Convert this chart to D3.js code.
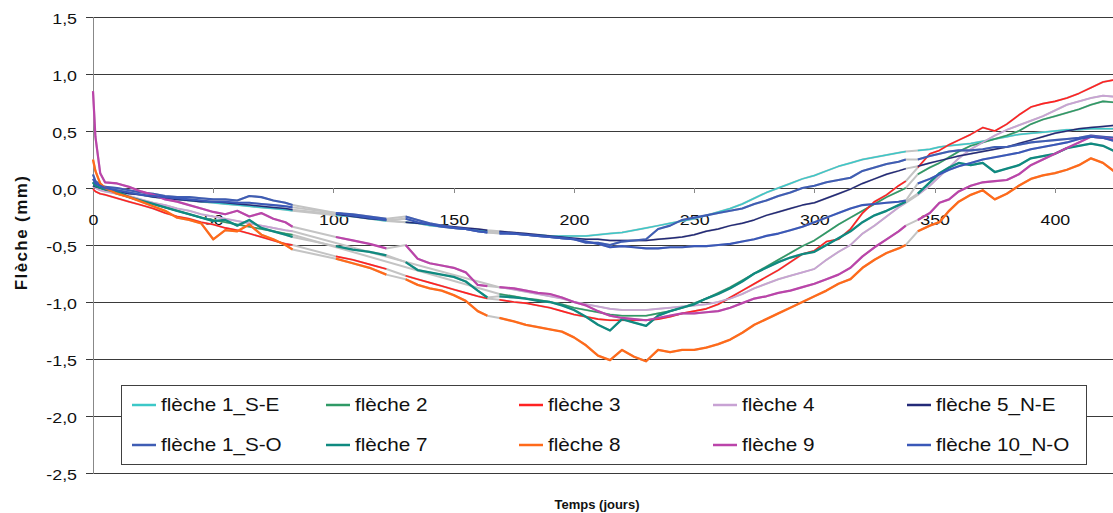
<!DOCTYPE html>
<html><head><meta charset="utf-8">
<script src="https://cdn.jsdelivr.net/npm/d3@7"></script>
<style>
html,body{margin:0;padding:0;background:#fff;}
svg{display:block;font-family:"Liberation Sans",Arial,sans-serif;}
</style></head><body>
<svg id="chart" width="1113" height="513"></svg>
<script>
// ---- DATA (days; null = missing readings, bridged in grey) ----
const days = [0,1,3,5,10,15,20,25,30,35,40,45,50,55,60,65,70,75,80,83,
  90,
  101,108,115,122,
  126,
  130,135,140,145,150,155,160,164,
  166,
  169,175,180,185,190,195,200,205,210,215,220,225,230,235,240,245,250,255,260,265,270,275,280,285,290,295,300,305,310,315,320,325,330,335,338,
  341,
  343,348,352,356,360,365,370,375,380,385,390,395,400,405,410,415,420,425];

const f1SE = [0.05,0.03,0.01,0.00,-0.02,-0.04,-0.06,-0.08,-0.09,-0.10,-0.11,-0.12,-0.13,-0.14,-0.15,-0.16,-0.17,-0.18,-0.19,-0.20,
  null, -0.24,-0.25,-0.27,-0.29, null, -0.30,-0.31,-0.33,-0.34,-0.35,-0.36,-0.37,-0.38, null,
  -0.39,-0.40,-0.41,-0.41,-0.42,-0.42,-0.42,-0.42,-0.41,-0.40,-0.39,-0.37,-0.35,-0.33,-0.31,-0.29,-0.27,-0.24,-0.21,-0.18,-0.14,-0.09,-0.04,0.00,0.04,0.08,0.11,0.15,0.19,0.22,0.25,0.27,0.29,0.31,0.32,
  null, 0.33,0.34,0.36,0.37,0.38,0.39,0.41,0.43,0.45,0.47,0.48,0.49,0.50,0.51,0.51,0.52,0.52,0.52];

const f2 = [0.05,0.02,0.00,-0.02,-0.05,-0.08,-0.11,-0.14,-0.17,-0.20,-0.23,-0.26,-0.28,-0.30,-0.32,-0.34,-0.36,-0.38,-0.40,-0.41,
  null, null,null,null,null, null, null,null,null,null,null,null,null,null, null,
  -0.93,-0.95,-0.97,-0.98,-1.00,-1.02,-1.05,-1.07,-1.09,-1.11,-1.12,-1.12,-1.12,-1.10,-1.08,-1.05,-1.01,-0.97,-0.92,-0.87,-0.81,-0.75,-0.69,-0.63,-0.57,-0.51,-0.46,-0.39,-0.32,-0.26,-0.20,-0.14,-0.08,-0.03,0.00,
  null, 0.12,0.18,0.22,0.27,0.32,0.37,0.40,0.43,0.46,0.50,0.56,0.60,0.63,0.66,0.69,0.73,0.76,0.75];

const f3 = [-0.01,-0.03,-0.05,-0.06,-0.09,-0.12,-0.15,-0.18,-0.22,-0.25,-0.27,-0.30,-0.32,-0.35,-0.37,-0.40,-0.43,-0.46,-0.49,-0.50,
  null, -0.60,-0.63,-0.67,-0.71, null, -0.77,-0.80,-0.83,-0.86,-0.89,-0.92,-0.95,-0.97, null,
  -0.98,-1.00,-1.01,-1.03,-1.05,-1.08,-1.11,-1.13,-1.15,-1.16,-1.16,-1.16,-1.16,-1.15,-1.13,-1.10,-1.08,-1.06,-1.02,-0.96,-0.90,-0.84,-0.78,-0.72,-0.65,-0.58,-0.55,-0.47,-0.45,-0.36,-0.22,-0.12,-0.06,0.02,0.06,
  null, 0.18,0.30,0.33,0.38,0.42,0.47,0.53,0.50,0.56,0.64,0.71,0.74,0.76,0.79,0.83,0.88,0.93,0.95];

const f4 = [0.02,0.00,-0.02,-0.03,-0.05,-0.07,-0.10,-0.13,-0.15,-0.18,-0.20,-0.23,-0.25,-0.27,-0.29,-0.31,-0.33,-0.35,-0.37,-0.38,
  null, null,null,null,null, null, null,null,null,null,null,null,null,null, null,
  -0.87,-0.89,-0.91,-0.93,-0.95,-0.97,-1.00,-1.02,-1.04,-1.06,-1.07,-1.07,-1.07,-1.06,-1.05,-1.04,-1.03,-1.02,-1.00,-0.97,-0.93,-0.88,-0.84,-0.80,-0.77,-0.74,-0.71,-0.63,-0.56,-0.50,-0.40,-0.33,-0.25,-0.17,-0.13,
  null, -0.06,0.02,0.10,0.18,0.26,0.34,0.40,0.46,0.51,0.55,0.59,0.63,0.68,0.73,0.76,0.79,0.81,0.80];

const f5NE = [0.02,0.01,0.00,-0.01,-0.03,-0.05,-0.06,-0.08,-0.09,-0.10,-0.11,-0.12,-0.12,-0.13,-0.14,-0.15,-0.16,-0.17,-0.18,-0.19,
  null, -0.23,-0.25,-0.27,-0.28, null, -0.30,-0.31,-0.32,-0.33,-0.34,-0.35,-0.36,-0.37, null,
  -0.38,-0.39,-0.40,-0.41,-0.42,-0.43,-0.44,-0.45,-0.45,-0.46,-0.46,-0.46,-0.46,-0.45,-0.44,-0.43,-0.41,-0.38,-0.36,-0.33,-0.31,-0.28,-0.24,-0.21,-0.18,-0.15,-0.13,-0.09,-0.05,-0.01,0.04,0.08,0.12,0.15,0.17,
  null, 0.19,0.22,0.24,0.26,0.28,0.30,0.32,0.34,0.36,0.39,0.42,0.45,0.48,0.50,0.52,0.53,0.54,0.55];

const f1SO = [0.12,0.06,0.03,0.01,0.00,-0.02,-0.04,-0.05,-0.07,-0.08,-0.08,-0.09,-0.10,-0.10,-0.11,-0.07,-0.08,-0.11,-0.13,-0.15,
  null, -0.22,-0.23,-0.25,-0.27, null, -0.25,-0.28,-0.31,-0.33,-0.35,-0.36,-0.38,-0.39, null,
  -0.39,-0.40,-0.41,-0.42,-0.43,-0.44,-0.45,-0.48,-0.48,-0.50,-0.47,-0.46,-0.45,-0.36,-0.33,-0.28,-0.26,-0.24,-0.22,-0.20,-0.18,-0.14,-0.11,-0.07,-0.04,0.00,0.02,0.05,0.07,0.09,0.15,0.18,0.21,0.23,0.25,
  null, 0.25,0.28,0.30,0.32,0.33,0.33,0.34,0.36,0.36,0.38,0.40,0.41,0.42,0.43,0.44,0.46,0.45,0.44];

const f7 = [0.05,0.02,0.00,-0.01,-0.03,-0.08,-0.11,-0.14,-0.17,-0.20,-0.23,-0.26,-0.29,-0.28,-0.33,-0.28,-0.35,-0.38,-0.41,-0.43,
  null, -0.51,-0.54,-0.56,-0.59, null, -0.65,-0.72,-0.74,-0.76,-0.78,-0.82,-0.90,-0.96, null,
  -0.95,-0.96,-0.97,-0.99,-1.00,-1.03,-1.07,-1.13,-1.20,-1.25,-1.15,-1.18,-1.21,-1.12,-1.08,-1.05,-1.02,-0.97,-0.93,-0.88,-0.82,-0.75,-0.70,-0.65,-0.61,-0.58,-0.56,-0.50,-0.44,-0.38,-0.30,-0.24,-0.20,-0.15,-0.12,
  null, -0.05,0.05,0.13,0.18,0.22,0.20,0.22,0.14,0.17,0.20,0.26,0.28,0.30,0.35,0.37,0.39,0.37,0.32];

const f8 = [0.25,0.15,0.04,0.00,-0.05,-0.08,-0.12,-0.16,-0.20,-0.26,-0.28,-0.31,-0.45,-0.37,-0.38,-0.32,-0.41,-0.45,-0.50,-0.54,
  null, -0.62,-0.66,-0.70,-0.76, null, -0.80,-0.85,-0.88,-0.90,-0.94,-0.99,-1.08,-1.12, null,
  -1.14,-1.17,-1.20,-1.22,-1.24,-1.26,-1.31,-1.38,-1.47,-1.51,-1.42,-1.48,-1.52,-1.42,-1.44,-1.42,-1.42,-1.40,-1.37,-1.33,-1.27,-1.20,-1.15,-1.10,-1.05,-1.00,-0.95,-0.90,-0.84,-0.80,-0.70,-0.63,-0.57,-0.53,-0.50,
  null, -0.38,-0.33,-0.30,-0.20,-0.12,-0.06,-0.02,-0.10,-0.05,0.02,0.08,0.11,0.13,0.16,0.20,0.26,0.22,0.14];

const f9 = [0.85,0.45,0.13,0.05,0.04,0.01,-0.03,-0.06,-0.10,-0.12,-0.15,-0.18,-0.21,-0.23,-0.20,-0.25,-0.22,-0.27,-0.30,-0.34,
  null, -0.43,-0.46,-0.49,-0.53, null, -0.50,-0.62,-0.66,-0.68,-0.70,-0.74,-0.85,-0.86, null,
  -0.87,-0.88,-0.90,-0.92,-0.93,-0.96,-1.00,-1.03,-1.08,-1.12,-1.14,-1.15,-1.16,-1.14,-1.12,-1.10,-1.10,-1.09,-1.08,-1.05,-1.01,-0.97,-0.95,-0.92,-0.90,-0.87,-0.84,-0.80,-0.76,-0.70,-0.60,-0.52,-0.45,-0.38,-0.33,
  null, -0.28,-0.22,-0.13,-0.10,-0.03,0.02,0.05,0.06,0.07,0.12,0.20,0.25,0.30,0.35,0.40,0.45,0.44,0.42];

const f10NO = [0.08,0.04,0.02,0.00,-0.02,-0.04,-0.06,-0.07,-0.08,-0.09,-0.10,-0.11,-0.12,-0.12,-0.13,-0.13,-0.14,-0.15,-0.16,-0.17,
  null, -0.22,-0.24,-0.26,-0.28, null, -0.27,-0.30,-0.32,-0.34,-0.35,-0.36,-0.38,-0.39, null,
  -0.40,-0.40,-0.41,-0.42,-0.43,-0.44,-0.45,-0.47,-0.49,-0.52,-0.51,-0.52,-0.53,-0.53,-0.52,-0.52,-0.51,-0.51,-0.50,-0.49,-0.47,-0.45,-0.42,-0.40,-0.37,-0.34,-0.30,-0.26,-0.22,-0.18,-0.15,-0.14,-0.13,-0.12,-0.11,
  null, 0.04,0.08,0.12,0.16,0.19,0.22,0.25,0.27,0.29,0.31,0.34,0.36,0.38,0.40,0.43,0.45,0.44,0.41];

const seriesNames = ["flèche 1_S-E","flèche 2","flèche 3","flèche 4","flèche 5_N-E",
                     "flèche 1_S-O","flèche 7","flèche 8","flèche 9","flèche 10_N-O"];
const seriesValues = [f1SE,f2,f3,f4,f5NE,f1SO,f7,f8,f9,f10NO];
const seriesColors = ["#3cc8c8","#2f9a66","#ff2222","#c8a2d4","#232a78",
                      "#3f5db4","#0f8a80","#ff6a1a","#bb44aa","#3a58b8"];
const seriesWidths = [1.5,1.6,1.6,1.6,1.5,2.1,2.3,2.3,2.2,2.1];
const yTicks = [-2.5,-2,-1.5,-1,-0.5,0,0.5,1,1.5];
const xTicks = [0,50,100,150,200,250,300,350,400];

(function draw(){
  const svg = d3.select("#chart");
  const mLeft = 93, mTop = 17, mBottom = 473, mRight = 1115;
  const x = d3.scaleLinear().domain([0,425]).range([mLeft,mRight]);
  const y = d3.scaleLinear().domain([-2.5,1.5]).range([mBottom,mTop]);
  const SX = 1.15; // horizontal glyph stretch of the reference
  const fmt = d3.formatLocale({decimal:",",thousands:".",grouping:[3],currency:["",""],minus:"-"}).format(".1f");

  // gridlines
  const grid = svg.append("g").attr("transform",`translate(${mLeft},0)`)
    .call(d3.axisLeft(y).tickValues(yTicks).tickSize(-(mRight-mLeft)).tickFormat(""));
  grid.select(".domain").remove();
  grid.selectAll("line").attr("stroke","#3a3a3a").attr("stroke-width",1).attr("shape-rendering","crispEdges");

  // y axis with labels
  const yAx = svg.append("g").attr("transform",`translate(${mLeft},0)`)
    .call(d3.axisLeft(y).tickValues(yTicks).tickSize(7).tickPadding(6.9).tickFormat(fmt));
  yAx.select(".domain").attr("stroke","#888").attr("shape-rendering","crispEdges");
  yAx.selectAll("line").attr("stroke","#3a3a3a").attr("shape-rendering","crispEdges");
  yAx.selectAll("text").attr("font-size","15.5px").attr("fill","#111")
    .attr("font-family","'Liberation Sans',Arial,sans-serif").attr("dy","0.42em")
    .attr("transform",`scale(${SX},1)`);

  // x axis on the zero line
  const xAx = svg.append("g").attr("transform",`translate(0,${y(0)})`)
    .call(d3.axisBottom(x).tickValues(xTicks).tickSize(5).tickPadding(21).tickFormat(d=>d));
  xAx.select(".domain").remove();
  xAx.selectAll("line").attr("stroke","#888").attr("shape-rendering","crispEdges");
  xAx.selectAll("text").attr("font-size","15.5px").attr("fill","#111")
    .attr("font-family","'Liberation Sans',Arial,sans-serif")
    .attr("transform",`scale(${SX},1)`);

  // series
  const pts = seriesValues.map(vals => days.map((d,i)=>[d, vals[i]]));
  const lineAll = d3.line().x(d=>x(d[0])).y(d=>y(d[1]));
  const lineDef = d3.line().defined(d=>d[1]!==null).x(d=>x(d[0])).y(d=>y(d[1]));
  const plot = svg.append("g");
  pts.forEach(p => {
    plot.append("path").attr("d", lineAll(p.filter(d=>d[1]!==null)))
      .attr("fill","none").attr("stroke","#c4c4c4").attr("stroke-width",2);
  });
  pts.forEach((p,i) => {
    plot.append("path").attr("d", lineDef(p))
      .attr("fill","none").attr("stroke",seriesColors[i])
      .attr("stroke-width",seriesWidths[i]).attr("stroke-linejoin","round");
  });

  // legend
  const lg = svg.append("g");
  lg.append("rect").attr("x",121.5).attr("y",385.5).attr("width",965).attr("height",79)
    .attr("fill","#fff").attr("stroke","#404040").attr("stroke-width",1);
  const colX = [132,326,519,713,907], rowY = [405,445];
  seriesNames.forEach((n,i) => {
    const cx = colX[i%5], cy = rowY[Math.floor(i/5)];
    lg.append("line").attr("x1",cx).attr("x2",cx+24).attr("y1",cy).attr("y2",cy)
      .attr("stroke",seriesColors[i]).attr("stroke-width",2.5);
    lg.append("text").attr("transform",`translate(${cx+29},${cy+6}) scale(${SX},1)`)
      .attr("font-size","18px").attr("fill","#111").text(n);
  });

  // axis titles
  svg.append("text").attr("transform","translate(27,232.5) rotate(-90)")
    .attr("text-anchor","middle").attr("font-weight","bold").attr("font-size","17px")
    .attr("letter-spacing","1.4px").attr("fill","#111").text("Flèche (mm)");
  svg.append("text").attr("x",597).attr("y",509).attr("text-anchor","middle")
    .attr("font-weight","bold").attr("font-size","13px").attr("fill","#111").text("Temps (jours)");
})();
</script>
</body></html>
